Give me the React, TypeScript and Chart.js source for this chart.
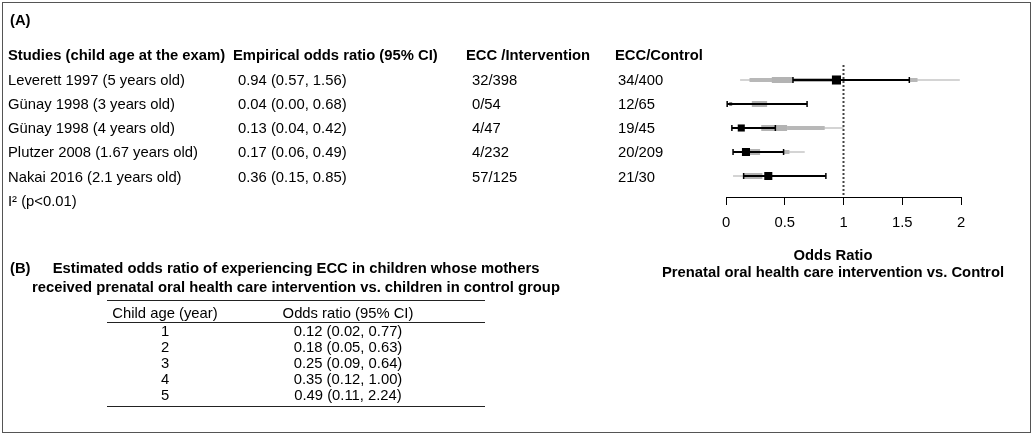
import React, { useEffect, useRef } from "react";
import { Chart, registerables } from "chart.js";

Chart.register(...registerables);

const FONT = '"Liberation Sans", Arial, Helvetica, sans-serif';
const FS = 14.8;

// ---------- Data (A) ----------
const studyLabels = [
  "Leverett 1997 (5 years old)",
  "Günay 1998 (3 years old)",
  "Günay 1998 (4 years old)",
  "Plutzer 2008 (1.67 years old)",
  "Nakai 2016 (2.1 years old)",
];
const oddsRatioText = [
  "0.94 (0.57, 1.56)",
  "0.04 (0.00, 0.68)",
  "0.13 (0.04, 0.42)",
  "0.17 (0.06, 0.49)",
  "0.36 (0.15, 0.85)",
];
const eccIntervention = ["32/398", "0/54", "4/47", "4/232", "57/125"];
const eccControl = ["34/400", "12/65", "19/45", "20/209", "21/30"];

const oddsRatio = [0.94, 0.04, 0.13, 0.17, 0.36];
const ciLower = [0.57, 0.01, 0.05, 0.06, 0.15];
const ciUpper = [1.56, 0.69, 0.42, 0.49, 0.85];

// grey background intervals: [row, from, to]
const greyThinRanges: [number, number, number][] = [
  [1, 0.12, 1.99],
  [2, 0.01, 0.69],
  [3, 0.3, 1.0],
  [4, 0.49, 0.67],
  [5, 0.06, 0.15],
];
const greyMediumRanges: [number, number, number][] = [
  [1, 0.2, 0.91],
  [1, 1.56, 1.63],
  [3, 0.52, 0.84],
  [4, 0.49, 0.54],
];
const greyWideRanges: [number, number, number][] = [
  [1, 0.39, 0.57],
  [2, 0.22, 0.35],
  [3, 0.3, 0.52],
  [4, 0.19, 0.29],
  [5, 0.15, 0.31],
];

const xTickValues = [0, 0.5, 1, 1.5, 2];
const axisTitle = ["Odds Ratio", "Prenatal oral health care intervention vs. Control"];

// ---------- Data (B) ----------
const childAge = ["1", "2", "3", "4", "5"];
const estimatedOR = [
  "0.12 (0.02, 0.77)",
  "0.18 (0.05, 0.63)",
  "0.25 (0.09, 0.64)",
  "0.35 (0.12, 1.00)",
  "0.49 (0.11, 2.24)",
];

// ---------- Styles ----------
const markerRadius = [6.4, 2.1, 5.0, 5.7, 5.7];
const axisTitleShift = -10.5;
const axisTitleLineHeight = 17;

type Pt = { x: number; y: number };
const segments = (ranges: [number, number, number][]): Pt[] =>
  ranges.flatMap(([r, a, b]) => [
    { x: a, y: r },
    { x: b, y: r },
    { x: NaN, y: NaN },
  ]);

function Txt(props: {
  x: number;
  y: number;
  children: React.ReactNode;
  bold?: boolean;
  align?: "left" | "center";
  size?: number;
}) {
  const { x, y, children, bold, align = "left", size = FS } = props;
  const style: React.CSSProperties = {
    position: "absolute",
    left: x,
    top: y - size * 0.49,
    fontSize: size,
    lineHeight: `${size}px`,
    fontWeight: bold ? "bold" : "normal",
    whiteSpace: "nowrap",
    fontFamily: FONT,
    color: "#000",
  };
  if (align === "center") style.transform = "translateX(-50%)";
  return <div style={style}>{children}</div>;
}

function Rule({ x1, x2, y }: { x1: number; x2: number; y: number }) {
  return (
    <div
      style={{
        position: "absolute",
        left: x1,
        top: y,
        width: x2 - x1,
        height: 0,
        borderTop: "1px solid #222",
      }}
    />
  );
}

const axisTitlePlugin = {
  id: "twoLineAxisTitle",
  afterDraw(chart: any) {
    const s = chart.scales.x;
    const ctx = chart.ctx as CanvasRenderingContext2D;
    ctx.save();
    ctx.font = `bold ${FS}px ${FONT}`;
    ctx.fillStyle = "#000";
    ctx.textAlign = "center";
    ctx.textBaseline = "middle";
    const cx = (s.left + s.right) / 2 + axisTitleShift;
    const n = axisTitle.length;
    axisTitle.forEach((t, i) => {
      const y = s.bottom - axisTitleLineHeight / 2 - (n - 1 - i) * axisTitleLineHeight;
      ctx.fillText(t, cx, y);
    });
    ctx.restore();
  },
};

function ForestChart() {
  const ref = useRef<HTMLCanvasElement | null>(null);
  useEffect(() => {
    if (!ref.current) return;
    const rows = oddsRatio.map((_, i) => i + 1);
    const chart = new Chart(ref.current, {
      type: "scatter",
      data: {
        datasets: [
          {
            label: "Odds ratio",
            data: oddsRatio.map((v, i) => ({ x: v, y: rows[i] })),
            showLine: false,
            pointStyle: "rect",
            pointRadius: markerRadius,
            pointBackgroundColor: "#000",
            pointBorderWidth: 0,
          },
          {
            label: "CI ends",
            data: [
              ...ciLower.map((v, i) => ({ x: v, y: rows[i] })),
              ...ciUpper.map((v, i) => ({ x: v, y: rows[i] })),
            ],
            showLine: false,
            pointStyle: "line",
            pointRotation: 90,
            pointRadius: 3,
            pointBorderWidth: 1.5,
            pointBorderColor: "#000",
          },
          {
            label: "95% CI",
            data: segments(ciLower.map((v, i) => [rows[i], v, ciUpper[i]] as [number, number, number])),
            showLine: true,
            borderColor: "#000",
            borderWidth: 2,
            pointRadius: 0,
            spanGaps: false,
          },
          {
            label: "grey wide",
            data: segments(greyWideRanges),
            showLine: true,
            borderColor: "#b3b3b3",
            borderWidth: 6,
            borderCapStyle: "butt",
            pointRadius: 0,
            spanGaps: false,
          },
          {
            label: "grey medium",
            data: segments(greyMediumRanges),
            showLine: true,
            borderColor: "#b8b8b8",
            borderWidth: 4,
            borderCapStyle: "butt",
            pointRadius: 0,
            spanGaps: false,
          },
          {
            label: "grey thin",
            data: segments(greyThinRanges),
            showLine: true,
            borderColor: "#c6c6c6",
            borderWidth: 1.5,
            borderCapStyle: "butt",
            pointRadius: 0,
            spanGaps: false,
          },
          {
            label: "reference",
            data: [
              { x: 1, y: 0.375 },
              { x: 1, y: 5.875 },
            ],
            showLine: true,
            borderColor: "#444",
            borderWidth: 2,
            borderDash: [2, 2],
            pointRadius: 0,
          },
        ],
      },
      options: {
        animation: false,
        responsive: false,
        devicePixelRatio: 1,
        events: [],
        layout: { padding: { left: 726, right: 72, top: 65, bottom: 0 } },
        plugins: { legend: { display: false }, tooltip: { enabled: false } },
        scales: {
          x: {
            type: "linear",
            min: 0,
            max: 2,
            afterBuildTicks: (s: any) => {
              s.ticks = xTickValues.map((v) => ({ value: v }));
            },
            afterFit: (s: any) => {
              s.height = 84;
            },
            ticks: {
              color: "#000",
              font: { family: FONT, size: FS },
              padding: 9,
              maxRotation: 0,
              autoSkip: false,
              callback: (v: any) => String(v),
            },
            grid: {
              drawOnChartArea: false,
              drawTicks: true,
              tickLength: 8,
              color: "#000",
              lineWidth: 1,
            },
            border: { display: true, color: "#000", width: 1 },
            title: { display: false },
          },
          y: {
            type: "linear",
            min: 0.375,
            max: 5.875,
            reverse: true,
            display: false,
          },
        },
      } as any,
      plugins: [axisTitlePlugin],
    });
    return () => chart.destroy();
  }, []);
  return (
    <canvas
      ref={ref}
      width={1033}
      height={281}
      style={{ position: "absolute", left: 0, top: 0, width: 1033, height: 281 }}
    />
  );
}

export default function App() {
  const rowY = (i: number) => 80 + i * 24.2;
  const tRowY = (i: number) => 331 + i * 16;
  const tableLeft = 107;
  const tableRight = 485;
  return (
    <div
      style={{
        position: "absolute",
        left: 0,
        top: 0,
        width: 1033,
        height: 435,
        background: "#fff",
        overflow: "hidden",
        fontFamily: FONT,
      }}
    >
      <div
        style={{
          position: "absolute",
          left: 2,
          top: 2,
          width: 1029,
          height: 431,
          boxSizing: "border-box",
          border: "1px solid #555",
        }}
      />
      <ForestChart />

      <Txt x={10} y={20} bold>(A)</Txt>
      <Txt x={8} y={55} bold>Studies (child age at the exam)</Txt>
      <Txt x={233} y={55} bold>Empirical odds ratio (95% CI)</Txt>
      <Txt x={466} y={55} bold>ECC /Intervention</Txt>
      <Txt x={615} y={55} bold>ECC/Control</Txt>
      {studyLabels.map((s, i) => (
        <Txt key={"s" + i} x={8} y={rowY(i)}>{s}</Txt>
      ))}
      {oddsRatioText.map((s, i) => (
        <Txt key={"o" + i} x={238} y={rowY(i)}>{s}</Txt>
      ))}
      {eccIntervention.map((s, i) => (
        <Txt key={"e" + i} x={472} y={rowY(i)}>{s}</Txt>
      ))}
      {eccControl.map((s, i) => (
        <Txt key={"c" + i} x={618} y={rowY(i)}>{s}</Txt>
      ))}
      <Txt x={8} y={201}>I² (p&lt;0.01)</Txt>

      <Txt x={10} y={268} bold>(B)</Txt>
      <Txt x={296} y={268} bold align="center">
        Estimated odds ratio of experiencing ECC in children whose mothers
      </Txt>
      <Txt x={296} y={287} bold align="center">
        received prenatal oral health care intervention vs. children in control group
      </Txt>

      <Rule x1={tableLeft} x2={tableRight} y={300} />
      <Txt x={165} y={313} align="center">Child age (year)</Txt>
      <Txt x={348} y={313} align="center">Odds ratio (95% CI)</Txt>
      <Rule x1={tableLeft} x2={tableRight} y={322} />
      {childAge.map((s, i) => (
        <Txt key={"a" + i} x={165} y={tRowY(i)} align="center">{s}</Txt>
      ))}
      {estimatedOR.map((s, i) => (
        <Txt key={"r" + i} x={348} y={tRowY(i)} align="center">{s}</Txt>
      ))}
      <Rule x1={tableLeft} x2={tableRight} y={406} />
    </div>
  );
}
